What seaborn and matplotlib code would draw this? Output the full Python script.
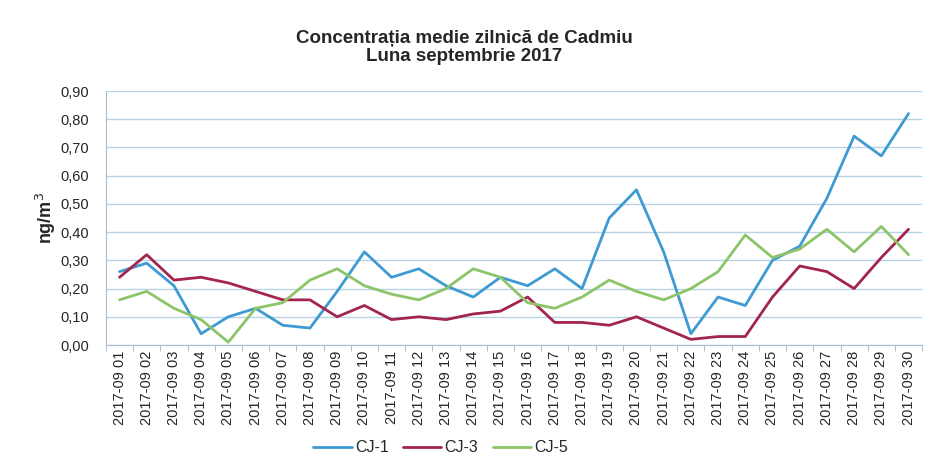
import pandas as pd
import numpy as np
import matplotlib
matplotlib.use('Agg')
import matplotlib.pyplot as plt
import seaborn as sns

# zilele lunii septembrie 2017
zile = ['2017-09 %02d' % d for d in range(1, 31)]

# concentratii medii zilnice (ng/m3)
cj1 = [0.26, 0.29, 0.21, 0.04, 0.10, 0.13, 0.07, 0.06, 0.19, 0.33,
       0.24, 0.27, 0.21, 0.17, 0.24, 0.21, 0.27, 0.20, 0.45, 0.55,
       0.33, 0.04, 0.17, 0.14, 0.30, 0.35, 0.52, 0.74, 0.67, 0.82]
cj3 = [0.24, 0.32, 0.23, 0.24, 0.22, 0.19, 0.16, 0.16, 0.10, 0.14,
       0.09, 0.10, 0.09, 0.11, 0.12, 0.17, 0.08, 0.08, 0.07, 0.10,
       0.06, 0.02, 0.03, 0.03, 0.17, 0.28, 0.26, 0.20, 0.31, 0.41]
cj5 = [0.16, 0.19, 0.13, 0.09, 0.01, 0.13, 0.15, 0.23, 0.27, 0.21,
       0.18, 0.16, 0.20, 0.27, 0.24, 0.15, 0.13, 0.17, 0.23, 0.19,
       0.16, 0.20, 0.26, 0.39, 0.31, 0.34, 0.41, 0.33, 0.42, 0.32]

statii = ['CJ-1', 'CJ-3', 'CJ-5']
culori = {'CJ-1': '#3E9AD3', 'CJ-3': '#A3244F', 'CJ-5': '#8CC46A'}

df = pd.DataFrame({'zi': zile * 3,
                   'valoare': cj1 + cj3 + cj5,
                   'statie': np.repeat(statii, len(zile))})

sns.set_style('white')
plt.rcParams['font.family'] = ['Liberation Sans', 'DejaVu Sans']

fig = plt.figure(figsize=(9.29, 4.61), dpi=100)
ax = fig.add_axes([0.114, 0.2516, 0.8786, 0.551])

sns.lineplot(data=df, x='zi', y='valoare', hue='statie', palette=culori,
             linewidth=2, ax=ax, sort=False)

ax.set_ylim(0, 0.9)
ax.set_xlim(-0.5, len(zile) - 0.5)
ax.set_yticks(np.arange(0, 0.91, 0.1))
ax.yaxis.set_major_formatter(matplotlib.ticker.FuncFormatter(lambda v, p: ('%.2f' % v).replace('.', ',')))
ax.tick_params(axis='y', labelsize=10.5, length=0, pad=12)
ax.grid(axis='y', color='#B9D3E6', linewidth=1)
ax.set_axisbelow(True)
ax.set_xticks(range(len(zile)))
ax.set_xticklabels(zile, rotation=90, fontsize=10.5)
ax.set_xticks(np.arange(-0.5, len(zile), 1), minor=True)
ax.tick_params(axis='x', which='major', length=0, pad=4)
ax.tick_params(axis='x', which='minor', length=4, color='#9DB3C4', bottom=True)

for s in ['top', 'right']:
    ax.spines[s].set_visible(False)
ax.spines['left'].set_color('#A9BCCB')
ax.spines['bottom'].set_color('#A9BCCB')

ax.set_xlabel('')
ax.set_ylabel('ng/m$^3$', fontsize=13, fontweight='bold', labelpad=2)

ax.legend(loc='center', bbox_to_anchor=(0.41, -0.405), ncol=3, frameon=False,
          fontsize=11.5, handlelength=2.4, columnspacing=0.9, handletextpad=0.2,
          borderaxespad=0, borderpad=0)

fig.suptitle('Concentrația medie zilnică de Cadmiu\nLuna septembrie 2017',
             fontsize=13.5, fontweight='bold', y=0.935, linespacing=1.1)

fig.savefig('out.png', dpi=100)
